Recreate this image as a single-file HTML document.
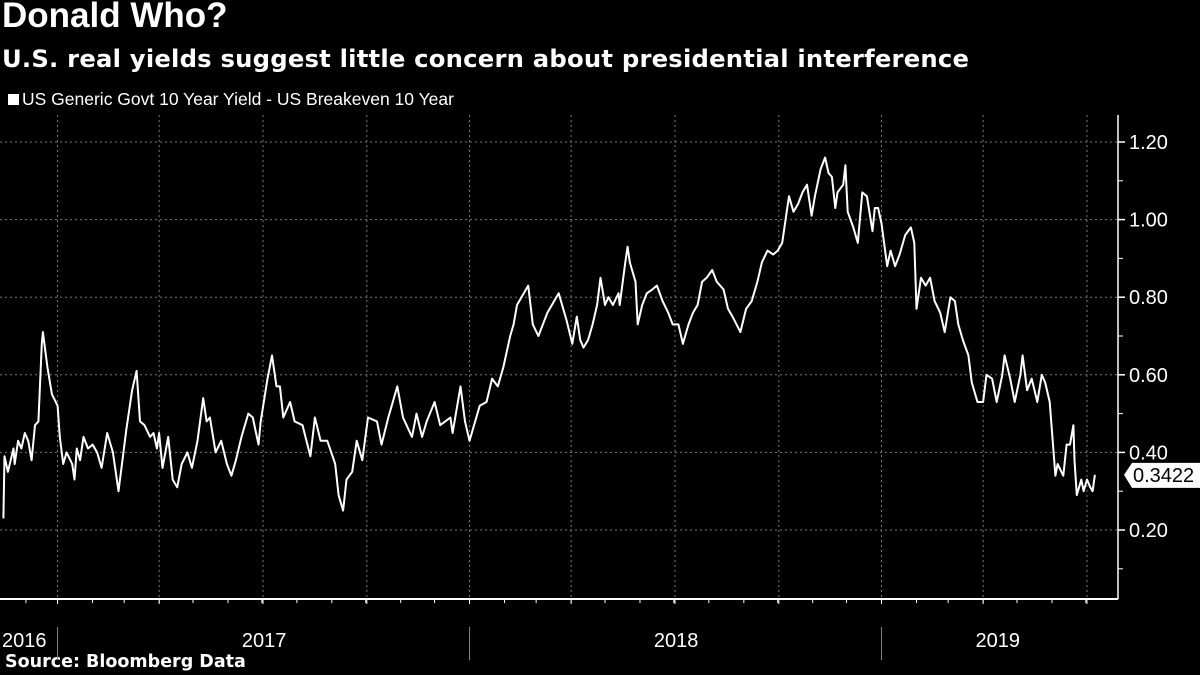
<!DOCTYPE html>
<html><head><meta charset="utf-8"><style>
html,body{margin:0;padding:0;background:#000;}
body{width:1200px;height:675px;overflow:hidden;font-family:"Liberation Sans",sans-serif;color:#fff;position:relative;}
.t{position:absolute;white-space:nowrap;}
</style></head><body>
<div class="t" style="left:2px;top:-4px;font-size:35px;font-weight:bold;">Donald Who?</div>
<div class="t" style="left:2px;top:44px;font-size:24.3px;font-weight:bold;font-family:'DejaVu Sans',sans-serif;letter-spacing:0.2px">U.S. real yields suggest little concern about presidential interference</div>
<div style="position:absolute;left:8px;top:94px;width:11px;height:11px;background:#fff"></div>
<div class="t" style="left:22px;top:89px;font-size:17.5px;">US Generic Govt 10 Year Yield - US Breakeven 10 Year</div>
<div class="t" style="left:5px;top:652px;font-size:17.5px;font-weight:bold;font-family:'DejaVu Sans',sans-serif">Source: Bloomberg Data</div>
<svg id="chart" width="1200" height="675" style="position:absolute;left:0;top:0"></svg>
<script>
const days=[3,4,7,12,13,16,19,22,25,28,31,34,37,38,42,46,51,53,56,59,64,66,68,71,74,78,82,86,90,95,100,105,112,117,121,124,128,133,136,139,141,144,149,153,157,161,166,170,175,180,183,186,191,196,201,205,209,214,220,224,229,231,237,241,245,248,251,257,261,268,275,279,284,290,297,300,304,307,312,316,321,326,334,338,344,347,352,357,365,369,374,378,385,390,399,401,408,412,416,425,431,436,441,446,452,455,458,468,472,477,485,495,502,507,511,514,517,521,525,529,532,536,539,543,548,549,554,556,558,563,565,569,573,578,582,587,592,596,601,605,610,614,618,622,626,631,635,641,645,649,656,661,666,671,675,680,685,689,693,697,699,703,707,711,715,719,722,727,731,734,737,740,742,747,749,751,756,760,764,768,773,775,778,781,786,789,793,797,802,807,810,812,816,820,824,828,833,837,842,846,849,853,858,861,866,871,874,879,883,888,890,895,899,904,906,910,914,919,923,926,930,935,937,942,945,948,951,952,954,958,960,963,966,968,970];
const values=[0.23,0.39,0.35,0.41,0.37,0.43,0.41,0.45,0.43,0.38,0.47,0.48,0.68,0.71,0.62,0.55,0.52,0.44,0.37,0.40,0.37,0.33,0.41,0.38,0.44,0.41,0.42,0.40,0.36,0.45,0.40,0.30,0.46,0.56,0.61,0.48,0.47,0.44,0.45,0.41,0.45,0.36,0.44,0.33,0.31,0.37,0.40,0.36,0.43,0.54,0.48,0.49,0.40,0.43,0.37,0.34,0.38,0.44,0.50,0.49,0.42,0.48,0.59,0.65,0.57,0.57,0.49,0.53,0.48,0.47,0.39,0.49,0.43,0.43,0.37,0.29,0.25,0.33,0.35,0.43,0.38,0.49,0.48,0.42,0.49,0.52,0.57,0.49,0.44,0.50,0.44,0.48,0.53,0.47,0.49,0.45,0.57,0.48,0.43,0.52,0.53,0.59,0.57,0.62,0.70,0.73,0.78,0.83,0.73,0.70,0.76,0.81,0.74,0.68,0.75,0.69,0.67,0.69,0.73,0.78,0.85,0.78,0.80,0.78,0.81,0.78,0.89,0.93,0.89,0.84,0.73,0.78,0.81,0.82,0.83,0.79,0.76,0.73,0.73,0.68,0.73,0.76,0.78,0.84,0.85,0.87,0.84,0.82,0.77,0.75,0.71,0.77,0.79,0.84,0.89,0.92,0.91,0.92,0.94,1.02,1.06,1.02,1.04,1.07,1.09,1.01,1.06,1.13,1.16,1.12,1.11,1.03,1.07,1.09,1.14,1.02,0.98,0.94,1.07,1.06,0.97,1.03,1.03,0.99,0.88,0.92,0.88,0.91,0.96,0.98,0.94,0.77,0.85,0.83,0.85,0.79,0.76,0.71,0.80,0.79,0.73,0.69,0.65,0.58,0.53,0.53,0.60,0.59,0.53,0.60,0.65,0.59,0.53,0.60,0.65,0.56,0.59,0.53,0.60,0.58,0.53,0.34,0.37,0.34,0.42,0.42,0.47,0.38,0.29,0.33,0.30,0.33,0.31,0.30,0.3422];
const yTicks=[0.20,0.40,0.60,0.80,1.00,1.20];
const yearLabels=["2016","2017","2018","2019"];
const yearMid=[-120,234,599,884];
const yearStarts=[51,416,781];
const quarterDays=[51,141,233,325,416,506,598,690,781,871,963];
const monthDays=[23,51,82,110,141,171,202,232,263,294,324,355,385,416,447,475,506,536,567,597,628,659,689,720,750,781,812,840,871,901,932,962];
const lastValue="0.3422";

const X0=0,X1=1118,D0=0,D1=990.5;
const Y0=530,Y1=142,V0=0.2,V1=1.2;
function xs(d){return X0+(d-D0)/(D1-D0)*(X1-X0);}
function ys(v){return Y0+(v-V0)/(V1-V0)*(Y1-Y0);}
const svg=document.getElementById('chart');
const NS='http://www.w3.org/2000/svg';
function mk(tag,attrs){const e=document.createElementNS(NS,tag);for(const k in attrs)e.setAttribute(k,attrs[k]);svg.appendChild(e);return e;}

yTicks.forEach(v=>{
  const g=mk('line',{x1:0,x2:X1,y1:ys(v),y2:ys(v),stroke:'#777','stroke-width':1,'stroke-dasharray':'2,3'});
  
  
  const t=mk('line',{x1:X1,x2:X1+7,y1:ys(v),y2:ys(v),stroke:'#fff','stroke-width':1.5});
  
  
  const l=mk('text',{x:X1+11,y:ys(v)+7,fill:'#fff','font-size':20,'font-family':'Liberation Sans, sans-serif'});
  l.textContent=v.toFixed(2);
  
  
});
for(let v=0.1;v<1.25;v+=0.2){
  const t=mk('line',{x1:X1,x2:X1+5,y1:ys(v),y2:ys(v),stroke:'#fff','stroke-width':1});
  
  
}
quarterDays.forEach(d=>{
  const g=mk('line',{x1:xs(d),x2:xs(d),y1:115,y2:599,stroke:'#777','stroke-width':1,'stroke-dasharray':'2,3'});
  
  
  const t=mk('line',{x1:xs(d),x2:xs(d),y1:599,y2:604,stroke:'#fff','stroke-width':1});
  
  
});
monthDays.forEach(d=>{
  const t=mk('line',{x1:xs(d),x2:xs(d),y1:599,y2:603,stroke:'#fff','stroke-width':1});
  
  
});
yearStarts.forEach(d=>{
  const t=mk('line',{x1:xs(d),x2:xs(d),y1:627,y2:660,stroke:'#888','stroke-width':1});
  
  
});
yearLabels.forEach((y,i)=>{
  const x=i===0?2:xs(yearMid[i]);
  const l=mk('text',{x:x,y:647,fill:'#fff','font-size':20,'text-anchor':i===0?'start':'middle','font-family':'Liberation Sans, sans-serif'});
  l.textContent=y;
  
  
});
const ax=mk('line',{x1:0,x2:X1,y1:599,y2:599,stroke:'#fff','stroke-width':2});


const ay=mk('line',{x1:X1,x2:X1,y1:115,y2:599,stroke:'#fff','stroke-width':1.5});



let dstr='';
days.forEach((d,i)=>{dstr+=(i?'L':'M')+xs(d).toFixed(1)+','+ys(values[i]).toFixed(1);});
const line=mk('path',{d:dstr,fill:'none',stroke:'#fff','stroke-width':2,'stroke-linejoin':'round'});



const ly=ys(values[values.length-1]);
const box=mk('path',{d:`M1124,${ly} L1132,${ly-12} L1200,${ly-12} L1200,${ly+13} L1132,${ly+13} Z`,fill:'#fff'});


const lt=mk('text',{x:1133,y:ly+7,fill:'#000','font-size':20,'font-family':'Liberation Sans, sans-serif'});
lt.textContent=lastValue;


</script>
</body></html>
